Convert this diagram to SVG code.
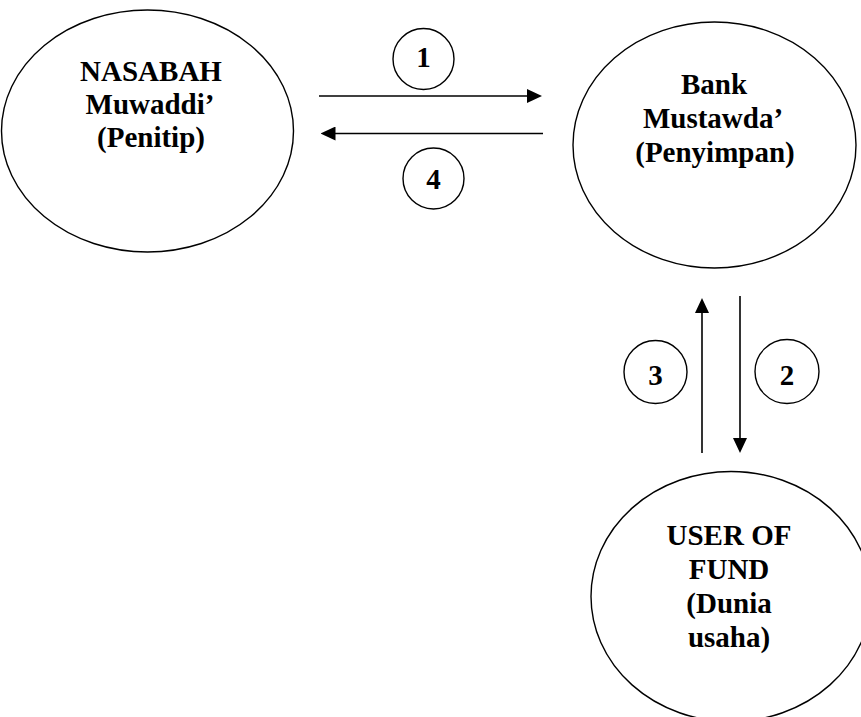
<svg xmlns="http://www.w3.org/2000/svg" width="861" height="717" viewBox="0 0 861 717">
<style>
.node{fill:#fff;stroke:#000;stroke-width:1.4}
.num{fill:#fff;stroke:#000;stroke-width:1.4}
.t{font-family:"Liberation Serif","Times New Roman",serif;font-weight:bold;font-size:29px;fill:#000;text-anchor:middle}
.c{stroke:#000;stroke-width:1.6;fill:none}
</style>
<defs>
<marker id="ah" markerUnits="userSpaceOnUse" markerWidth="15" markerHeight="14" refX="10" refY="7" orient="auto" viewBox="0 0 15 14">
<path d="M0,0 L15,7 L0,14 z" fill="#000"/>
</marker>
</defs>
<rect width="861" height="717" fill="#fff"/>
<g id="nasabah">
<ellipse class="node" cx="147.5" cy="131" rx="146" ry="121"/>
<text class="t" x="151" y="81">NASABAH</text>
<text class="t" x="150" y="114">Muwaddi’</text>
<text class="t" x="151" y="147">(Penitip)</text>
</g>
<g id="bank">
<ellipse class="node" cx="714.5" cy="145" rx="141.5" ry="123"/>
<text class="t" x="714" y="93.5">Bank</text>
<text class="t" x="713" y="127.5">Mustawda’</text>
<text class="t" x="715" y="161.5">(Penyimpan)</text>
</g>
<g id="user">
<ellipse class="node" cx="731" cy="596.5" rx="140" ry="125"/>
<text class="t" x="729" y="545">USER OF</text>
<text class="t" x="729" y="579">FUND</text>
<text class="t" x="729" y="613">(Dunia</text>
<text class="t" x="729" y="647">usaha)</text>
</g>
<g id="connectors">
<line class="c" x1="319" y1="96" x2="537" y2="96" marker-end="url(#ah)"/>
<line class="c" x1="543" y1="133.5" x2="325.5" y2="133.5" marker-end="url(#ah)"/>
<line class="c" x1="702" y1="453" x2="702" y2="303" marker-end="url(#ah)"/>
<line class="c" x1="740" y1="296" x2="740" y2="448" marker-end="url(#ah)"/>
</g>
<g id="label1">
<circle class="num" cx="423.5" cy="59" r="30.5"/>
<text class="t" x="423.5" y="67">1</text>
</g>
<g id="label4">
<circle class="num" cx="433.5" cy="178.5" r="30.5"/>
<text class="t" x="433.5" y="188.5">4</text>
</g>
<g id="label3">
<circle class="num" cx="655.5" cy="372" r="31.5"/>
<text class="t" x="655.5" y="385">3</text>
</g>
<g id="label2">
<circle class="num" cx="787" cy="371.5" r="32"/>
<text class="t" x="787" y="385">2</text>
</g>
</svg>
